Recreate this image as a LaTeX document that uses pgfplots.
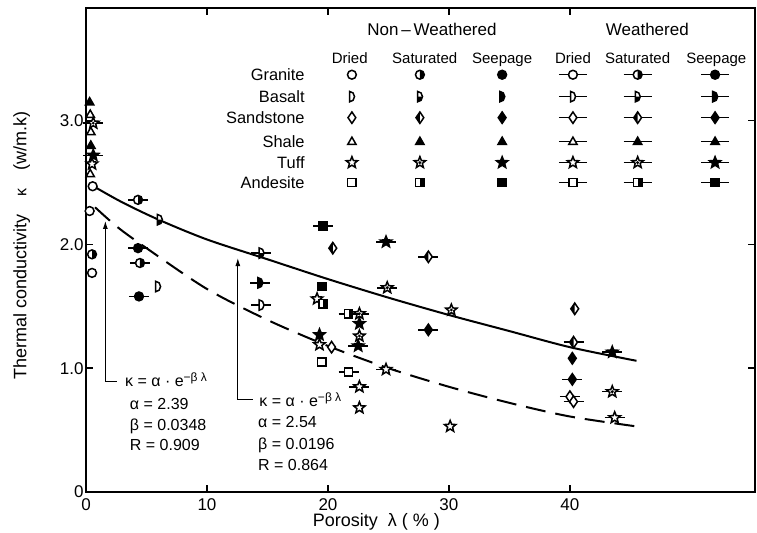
\documentclass[border=0pt]{standalone}
\usepackage{fontspec}
\setmainfont{Liberation Sans}
\usepackage{pgfplots}
\pgfplotsset{compat=1.18}
\usetikzlibrary{arrows.meta}

\newlength\barlen \setlength\barlen{5pt}
\tikzset{legbar/.code={\setlength\barlen{7pt}}}

% shape paths (r = \pgfplotmarksize)
\def\pathC{\pgfpathcircle{\pgfpointorigin}{0.85\pgfplotmarksize}}
\def\pathChalf{\pgfpathmoveto{\pgfpoint{0pt}{0.85\pgfplotmarksize}}\pgfpatharc{90}{-90}{0.85\pgfplotmarksize}\pgfpathclose}
\def\pathD{\pgfpathmoveto{\pgfpoint{-0.45\pgfplotmarksize}{-\pgfplotmarksize}}\pgfpathlineto{\pgfpoint{-0.45\pgfplotmarksize}{\pgfplotmarksize}}\pgfpatharc{90}{-90}{0.95\pgfplotmarksize and \pgfplotmarksize}\pgfpathclose}
\def\pathDhalf{\pgfpathmoveto{\pgfpoint{-0.45\pgfplotmarksize}{0pt}}\pgfpathlineto{\pgfpoint{-0.45\pgfplotmarksize}{-\pgfplotmarksize}}\pgfpatharc{-90}{0}{0.95\pgfplotmarksize and \pgfplotmarksize}\pgfpathclose}
\def\pathDi{\pgfpathmoveto{\pgfpoint{0pt}{1.1\pgfplotmarksize}}\pgfpathlineto{\pgfpoint{0.75\pgfplotmarksize}{0pt}}\pgfpathlineto{\pgfpoint{0pt}{-1.1\pgfplotmarksize}}\pgfpathlineto{\pgfpoint{-0.75\pgfplotmarksize}{0pt}}\pgfpathclose}
\def\pathDihalf{\pgfpathmoveto{\pgfpoint{0pt}{1.1\pgfplotmarksize}}\pgfpathlineto{\pgfpoint{-0.75\pgfplotmarksize}{0pt}}\pgfpathlineto{\pgfpoint{0pt}{-1.1\pgfplotmarksize}}\pgfpathclose}
\def\pathT{\pgfpathmoveto{\pgfpoint{0pt}{0.85\pgfplotmarksize}}\pgfpathlineto{\pgfpoint{0.8\pgfplotmarksize}{-0.55\pgfplotmarksize}}\pgfpathlineto{\pgfpoint{-0.8\pgfplotmarksize}{-0.55\pgfplotmarksize}}\pgfpathclose}
\def\pathS{%
\pgfpathmoveto{\pgfpointpolar{90}{1.15\pgfplotmarksize}}%
\pgfpathlineto{\pgfpointpolar{126}{0.5\pgfplotmarksize}}%
\pgfpathlineto{\pgfpointpolar{162}{1.15\pgfplotmarksize}}%
\pgfpathlineto{\pgfpointpolar{198}{0.5\pgfplotmarksize}}%
\pgfpathlineto{\pgfpointpolar{234}{1.15\pgfplotmarksize}}%
\pgfpathlineto{\pgfpointpolar{270}{0.5\pgfplotmarksize}}%
\pgfpathlineto{\pgfpointpolar{306}{1.15\pgfplotmarksize}}%
\pgfpathlineto{\pgfpointpolar{342}{0.5\pgfplotmarksize}}%
\pgfpathlineto{\pgfpointpolar{18}{1.15\pgfplotmarksize}}%
\pgfpathlineto{\pgfpointpolar{54}{0.5\pgfplotmarksize}}%
\pgfpathclose}
\def\pathShalf{\pgfpathcircle{\pgfpointorigin}{0.3\pgfplotmarksize}}
\def\pathQ{\pgfpathrectangle{\pgfpoint{-0.8\pgfplotmarksize}{-0.8\pgfplotmarksize}}{\pgfpoint{1.6\pgfplotmarksize}{1.6\pgfplotmarksize}}}
\def\pathQhalf{\pgfpathrectangle{\pgfpoint{0pt}{-0.8\pgfplotmarksize}}{\pgfpoint{0.8\pgfplotmarksize}{1.6\pgfplotmarksize}}}

\newcommand\mkO[1]{\pgfsetfillcolor{white}#1\pgfusepath{fill,stroke}}
\newcommand\mkH[2]{\pgfsetfillcolor{white}#1\pgfusepath{fill}\pgfsetfillcolor{black}#2\pgfusepath{fill}#1\pgfusepath{stroke}}
\newcommand\mkF[1]{\pgfsetfillcolor{black}#1\pgfusepath{fill,stroke}}
\newcommand\mkB{\pgfpathmoveto{\pgfpoint{-\barlen}{0pt}}\pgfpathlineto{\pgfpoint{\barlen}{0pt}}\pgfusepath{stroke}}

\newcommand\declset[3]{%
 \pgfdeclareplotmark{#1D}{\mkO#2}%
 \pgfdeclareplotmark{#1S}{\mkH#2#3}%
 \pgfdeclareplotmark{#1P}{\mkF#2}%
 \pgfdeclareplotmark{W#1D}{\mkB\mkO#2}%
 \pgfdeclareplotmark{W#1S}{\mkB\mkH#2#3}%
 \pgfdeclareplotmark{W#1P}{\mkB\mkF#2}}
\declset{g}{\pathC}{\pathChalf}
\declset{b}{\pathD}{\pathDhalf}
\declset{s}{\pathDi}{\pathDihalf}
\declset{h}{\pathT}{\pathT}
\declset{t}{\pathS}{\pathShalf}
\declset{a}{\pathQ}{\pathQhalf}

\pgfplotsset{
 pt/.style={only marks, mark=#1, mark size=2.6pt, mark options={solid, line width=0.75pt, black}},
 lg/.style={only marks, mark=#1, mark size=2.6pt, mark options={solid, line width=0.75pt, black, legbar}},
}

\begin{document}
\begin{tikzpicture}
\useasboundingbox (-43pt,-20pt) rectangle (335.5pt,246pt);
\begin{axis}[
 at={(0pt,0pt)}, anchor=south west, scale only axis,
 width=334.5pt, height=242pt,
 xmin=0, xmax=55.3, ymin=0, ymax=3.91,
 clip=false,
 axis line style={line width=1pt},
 xtick={0,10,20,30,40}, ytick={0,1,2,3}, yticklabels={0,1.0,2.0,3.0},
 tick style={line width=0.8pt, black}, major tick length=3.5pt,
 tick align=inside,
 ticklabel style={font=\fontsize{8.5}{10}\selectfont},
 /pgf/number format/assume math mode=true,
 yticklabel style={inner sep=1pt},
 xlabel={Porosity\ \ λ ( \% )},
 ylabel={Thermal conductivity\quad{\footnotesize κ}\quad (w/m.k)},
 label style={font=\fontsize{9}{11}\selectfont},
 xlabel style={at={(axis description cs:0.434,-0.062)}, anchor=center},
 ylabel style={at={(axis description cs:-0.096,0.51)}, anchor=center},
]
% fitted curves
\addplot[line width=1pt, smooth] coordinates {(0.8,2.46) (3,2.34) (6,2.2) (10,2.04) (15,1.88) (20,1.72) (25,1.57) (30,1.43) (35,1.30) (40,1.17) (45.5,1.06)};
\addplot[line width=1pt, smooth, dash pattern=on 10pt off 5pt] coordinates {(0.75,2.30) (2.6,2.14) (5,1.97) (10,1.64) (15,1.39) (20,1.18) (25,1.0) (30,0.85) (35,0.72) (40,0.61) (45.5,0.53)};

% non-weathered
\addplot[pt=gD] coordinates {(0.55,2.47) (0.3,2.27) (0.5,1.77)};
\addplot[pt=gS] coordinates {(0.5,1.92)};
\addplot[pt=bD] coordinates {(5.95,1.66)};
\addplot[pt=bS] coordinates {(6.1,2.2)};
\addplot[pt=sD] coordinates {(20.3,1.17)};
\addplot[pt=sS] coordinates {(20.4,1.97) (40.4,1.48)};
\addplot[pt=sP] coordinates {(40.2,1.08)};
\addplot[pt=hD] coordinates {(0.35,3.05) (0.4,2.91) (0.35,2.57)};
\addplot[pt=hP] coordinates {(0.3,3.15) (0.4,2.80)};
\addplot[pt=tD] coordinates {(19.1,1.56) (19.3,1.19) (22.6,0.68) (30.1,0.53) (0.5,2.65)};
\addplot[pt=tS] coordinates {(30.2,1.47) (22.6,1.26)};
\addplot[pt=tP] coordinates {(19.3,1.27) (22.6,1.36)};
\addplot[pt=aD] coordinates {(19.5,1.05)};
\addplot[pt=aS] coordinates {(19.6,1.52)};
\addplot[pt=aP] coordinates {(19.5,1.66)};
% weathered
\addplot[pt=WgS] coordinates {(4.3,2.36) (4.46,1.85)};
\addplot[pt=WgP] coordinates {(4.3,1.97) (4.38,1.58)};
\addplot[pt=WbS] coordinates {(14.5,1.93)};
\addplot[pt=WbD] coordinates {(14.5,1.51)};
\addplot[pt=WbP] coordinates {(14.4,1.69)};
\addplot[pt=WsD] coordinates {(40.0,0.77) (40.3,0.73)};
\addplot[pt=WsS] coordinates {(28.3,1.90) (40.3,1.21)};
\addplot[pt=WsP] coordinates {(28.3,1.31) (40.2,0.91)};
\addplot[pt=WtD] coordinates {(22.6,0.85) (24.8,0.99) (43.7,0.60)};
\addplot[pt=WtS] coordinates {(24.9,1.65) (43.5,0.81) (0.6,2.98) (22.6,1.44)};
\addplot[pt=WtP] coordinates {(24.8,2.02) (43.5,1.13) (0.6,2.72) (22.5,1.18)};
\addplot[pt=WaD] coordinates {(21.7,0.97)};
\addplot[pt=WaS] coordinates {(21.7,1.44)};
\addplot[pt=WaP] coordinates {(19.6,2.15)};

% legend symbols
\addplot[lg=gD] coordinates {(21.98,3.371)};
\addplot[lg=gS] coordinates {(27.6,3.371)};
\addplot[lg=gP] coordinates {(34.4,3.371)};
\addplot[lg=WgD] coordinates {(40.25,3.371)};
\addplot[lg=WgS] coordinates {(45.6,3.371)};
\addplot[lg=WgP] coordinates {(52.0,3.371)};
\addplot[lg=bD] coordinates {(21.98,3.194)};
\addplot[lg=bS] coordinates {(27.6,3.194)};
\addplot[lg=bP] coordinates {(34.4,3.194)};
\addplot[lg=WbD] coordinates {(40.25,3.194)};
\addplot[lg=WbS] coordinates {(45.6,3.194)};
\addplot[lg=WbP] coordinates {(52.0,3.194)};
\addplot[lg=sD] coordinates {(21.98,3.024)};
\addplot[lg=sS] coordinates {(27.6,3.024)};
\addplot[lg=sP] coordinates {(34.4,3.024)};
\addplot[lg=WsD] coordinates {(40.25,3.024)};
\addplot[lg=WsS] coordinates {(45.6,3.024)};
\addplot[lg=WsP] coordinates {(52.0,3.024)};
\addplot[lg=hD] coordinates {(21.98,2.831)};
\addplot[lg=hS] coordinates {(27.6,2.831)};
\addplot[lg=hP] coordinates {(34.4,2.831)};
\addplot[lg=WhD] coordinates {(40.25,2.831)};
\addplot[lg=WhS] coordinates {(45.6,2.831)};
\addplot[lg=WhP] coordinates {(52.0,2.831)};
\addplot[lg=tD] coordinates {(21.98,2.661)};
\addplot[lg=tS] coordinates {(27.6,2.661)};
\addplot[lg=tP] coordinates {(34.4,2.661)};
\addplot[lg=WtD] coordinates {(40.25,2.661)};
\addplot[lg=WtS] coordinates {(45.6,2.661)};
\addplot[lg=WtP] coordinates {(52.0,2.661)};
\addplot[lg=aD] coordinates {(21.98,2.5)};
\addplot[lg=aS] coordinates {(27.6,2.5)};
\addplot[lg=aP] coordinates {(34.4,2.5)};
\addplot[lg=WaD] coordinates {(40.25,2.5)};
\addplot[lg=WaS] coordinates {(45.6,2.5)};
\addplot[lg=WaP] coordinates {(52.0,2.5)};

% legend texts
\begin{scope}[every node/.style={font=\fontsize{8.5}{10}\selectfont, anchor=base, yshift=-3pt}]
\node at (axis cs:28.6,3.734) {Non\,–\,Weathered};
\node at (axis cs:46.4,3.734) {Weathered};
\end{scope}
\begin{scope}[every node/.style={font=\fontsize{7.5}{9}\selectfont, anchor=base, yshift=-2.7pt}]
\node at (axis cs:21.8,3.508) {Dried};
\node at (axis cs:28.0,3.508) {Saturated};
\node at (axis cs:34.4,3.508) {Seepage};
\node at (axis cs:40.25,3.508) {Dried};
\node at (axis cs:45.6,3.508) {Saturated};
\node at (axis cs:52.1,3.508) {Seepage};
\end{scope}
\begin{scope}[every node/.style={font=\fontsize{8.2}{10}\selectfont, anchor=base east, inner sep=0pt, yshift=-2.9pt}]
\node at (axis cs:18.1,3.371) {Granite};
\node at (axis cs:18.1,3.194) {Basalt};
\node at (axis cs:18.1,3.024) {Sandstone};
\node at (axis cs:18.1,2.831) {Shale};
\node at (axis cs:18.1,2.661) {Tuff};
\node at (axis cs:18.1,2.5) {Andesite};
\end{scope}

% annotations
\draw[line width=0.5pt, -{Latex[length=4pt,width=2.5pt]}] (axis cs:2.56,0.895) -- (axis cs:1.6,0.895) -- (axis cs:1.6,2.19);
\draw[line width=0.5pt, -{Latex[length=4pt,width=2.5pt]}] (axis cs:13.8,0.75) -- (axis cs:12.55,0.75) -- (axis cs:12.55,1.89);
\begin{scope}[every node/.style={font=\fontsize{8}{10}\selectfont, anchor=base west, inner sep=0pt, yshift=-2.8pt}]
\node at (axis cs:3.2,0.895) {κ = α · e\textsuperscript{−β λ}};
\node at (axis cs:3.6,0.71) {α = 2.39};
\node at (axis cs:3.6,0.54) {β = 0.0348};
\node at (axis cs:3.6,0.38) {R = 0.909};
\node at (axis cs:14.3,0.734) {κ = α · e\textsuperscript{−β λ}};
\node at (axis cs:14.2,0.565) {α = 2.54};
\node at (axis cs:14.2,0.387) {β = 0.0196};
\node at (axis cs:14.2,0.218) {R = 0.864};
\end{scope}
\end{axis}
\end{tikzpicture}
\end{document}
